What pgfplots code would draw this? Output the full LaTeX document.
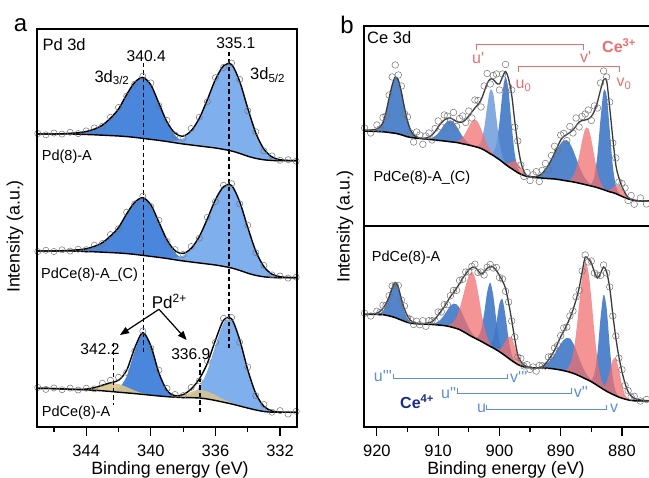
\documentclass[border=0pt]{standalone}
\usepackage{fontspec}
\setmainfont{Liberation Sans}
\usepackage{pgfplots}
\pgfplotsset{compat=1.18}
\usepackage{pgfplotstable}
\usepgfplotslibrary{fillbetween}
\usetikzlibrary{arrows.meta}
\definecolor{pdA}{HTML}{4A86DC}
\definecolor{pdB}{HTML}{74A8EC}
\definecolor{pdT}{HTML}{D8C48E}
\definecolor{ceB}{HTML}{3F78C6}
\definecolor{ceL}{HTML}{6E9CDA}
\definecolor{ceR}{HTML}{F07070}
\definecolor{lblR}{HTML}{EC6E6E}
\definecolor{lblB}{HTML}{5B8FD6}
\definecolor{navy}{HTML}{1C2A8C}
\definecolor{envc}{HTML}{3A3A3A}
\newcommand\fs[1]{\fontsize{#1}{#1}\selectfont}
\tikzset{guide/.style={line width=1.5pt, dash pattern=on 4.5pt off 3pt}}

\pgfplotstableread{
x bga Aa Ba na bgb Ab Bb nb bgc Ac Bc Tc nc
347 293 0 0 0.5 176 0 0 -0.6 38.7 0 0 0 0.8
346.5 293 0 0 -0.8 176 0 0 0.7 38.6 0 0 0 -1.0
346 293 0 0 0.9 176 0 0 -0.5 38.4 0 0 0 0.6
345.5 293 0.3 0 -0.4 176 0.3 0 0.9 38.1 0 0 0 -0.8
345 293 0.7 0 1.0 176 0.7 0 -0.8 37.7 0 0 0 1.2
344.5 292.8 1.5 0 -0.9 175.8 1.4 0 0.6 37.4 0 0 0.2 -0.6
344 292.5 3 0 0.6 175.5 2.8 0 -1.0 37.1 0 0 0.8 0.9
343.5 292.2 5.7 0 1.2 175.2 5.4 0 1.2 36.7 0 0 2.6 -1.2
343 291.8 10 0 -1.0 174.8 9.5 0 -0.8 36.2 0 0 5.6 2.0
342.5 291.4 17.5 0 0.8 174.4 16.6 0 1.4 35.5 0.4 0 8.3 2.5
342 291 27 0 1.5 174 25.5 0 -1.2 34.8 3.6 0 8.3 3.0
341.5 290.4 42 0 -1.4 173.4 39.7 0 1.6 34.1 16.6 0 5.9 -2.0
341 289.6 55 0 -1.8 172.6 52 0 -1.5 33.4 42.6 0 3.0 -3.0
340.5 288.6 61 0 1.2 171.6 57.7 0 1.5 32.6 60.8 0 1.0 1.5
340 287.6 54.5 0 2.0 170.6 51.6 0 -1.8 31.8 49 0 0.3 -2.5
339.5 286.6 37 0.1 -2.2 169.6 35 0.1 2.0 31.0 23 0 0 2.8
339 285.5 19 0.6 1.5 168.5 18 0.6 -1.5 30.3 6.3 0 0 2.0
338.5 284.2 7.5 2 -1.6 167.2 7.1 1.9 1.2 29.8 1.0 0 0.5 1.2
338 283 2.2 5.7 -2.0 166 2.1 5.4 -1.0 29.5 0.1 0.6 2.2 -1.0
337.5 282 0.6 13.7 2.2 165 0.6 13.1 1.8 29.3 0 3.0 5.8 1.5
337 281 0 27.7 1.0 164 0 26.4 -1.6 29.0 0 10.7 8.3 -2.0
336.5 280 0 47.4 -2.0 163 0 45.2 1.5 28.0 0 28.2 7.5 2.5
336 279 0 68.5 1.8 162 0 65.3 -1.8 26.5 0 55 5.3 -2.2
335.5 277.6 0 83.5 -1.5 160.6 0 79.7 1.4 24.8 0 79 2.9 2.0
335 276 0 86.5 1.5 159 0 82.5 1.8 23.0 0 83.8 1.2 1.5
334.5 273.6 0 72 2.0 156.6 0 68.7 -2.0 21.0 0 65.9 0.4 -2.5
334 270.8 0 48 -2.5 153.8 0 45.8 2.2 18.9 0 38.2 0.1 2.8
333.5 268.6 0 25.4 1.2 151.6 0 24.2 -1.5 17.0 0 16.4 0 -2.0
333 267.2 0 10.7 -1.8 150.2 0 10.2 1.2 15.5 0 5.2 0 1.8
332.5 266.5 0 3.6 1.0 149.5 0 3.4 -0.8 14.8 0 1.2 0 -1.2
332 266.3 0 1 -0.6 149.3 0 1 0.7 14.7 0 0.2 0 1.5
331.5 266.3 0 0.2 0.8 149.3 0 0.2 -0.6 14.7 0 0 0 -1.8
331 266.3 0 0 -0.5 149.3 0 0 0.5 14.7 0 0 0 1.0
}\tabPd

\pgfplotstableread{
x bg bA bB bL rA rB env n
922 95 0 0 0 0 0 96 2
921 94.8 0.1 0 0 0 0 96 -3
920 94.5 1.4 0 0 0 0 97 4
919.5 94.4 4.0 0 0 0 0 99 -2
919 94.2 9.9 0 0 0 0 103.5 5
918.5 93.9 20.2 0 0 0 0 114 -4
918 93.5 34.4 0 0 0 0 128 3
917.5 93.1 48.3 0 0 0 0 141 8
917 92.7 56.2 0 0 0 0 149 12
916.5 92 54.1 0 0 0 0 146 5
916 91.2 43.1 0 0 0 0 134 6
915.5 90.2 28.5 0 0 0 0 118.5 -6
915 89.2 15.5 0 0 0 0 105 4
914.5 88.6 7.0 0 0 0 0 96 -3
914 88.1 2.6 0 0 0 0 91 -7
913.5 87.8 0.8 0 0 0 0 89 5
913 87.5 0.2 0 0 0 0 88 3
912.5 87.2 0 0.1 0 0 0 87.7 -6
912 86.9 0 0.3 0 0 0 88 2
911.5 86.6 0 0.8 0 0 0 89 4
911 86.3 0 1.8 0 0 0 91 -5
910.5 86 0 3.9 0 0 0 94.5 3
910 85.6 0 7.2 0 0 0 99 6
909.5 85.3 0 11.6 0 0 0 103 -4
909 85 0 16.3 0 0 0 106 5
908.5 84.6 0 20.1 0 0 0 107.8 2
908 84.2 0 21.5 0 0 0 108 -3
907.5 83.9 0 20.1 0 0.3 0 106.5 7
907 83.5 0 16.3 0 1.1 0 104.5 -5
906.5 82.9 0 11.6 0 2.8 0 103.5 4
906 82.2 0 7.2 0 6.3 0 104 6
905.5 81.6 0 3.9 0 11.7 0 106.5 -3
905 80.9 0 1.8 0 18.4 0 110 5
904.5 80.2 0 0.8 0 24.3 0 114 -6
904 79.4 0 0.3 0.2 27 0 118 8
903.5 78.6 0 0 1.5 25.2 0 121.5 4
903 77.5 0 0 6.9 19.7 0 126 -7
902.5 76 0 0 21.4 13 0 134 6
902 74.2 0 0 45 7.2 0 142.5 10
901.5 72.2 0 0.5 64 3.4 0 147 -5
901 70.5 0 3.3 61.5 1.3 0 146.5 4
900.5 68.4 0 13.4 40 0.4 0 143 9
900 66.3 0 37.3 17.6 0.1 0 142 -6
899.5 64 0 69.3 5.3 0 0.2 149 3
899 61.5 0 88 1.1 0 1.1 154.5 7
898.5 59.3 0 75.2 0.1 0 3.3 147 -8
898 57.3 0 43.4 0 0 6.8 131 5
897.5 55.3 0 17.1 0 0 9.7 105 -6
897 53.3 0 4.5 0 0 9.3 81 4
896.5 51.7 0 0.8 0 0 6.1 64 -3
896 50.5 0 0.1 0 0 2.7 54.5 -5
895.5 49.6 0 0 0 0 0.8 50.5 3
895 49 0.3 0 0 0 0.2 49.5 -4
894.5 48.6 0.7 0 0 0 0 49.2 2
894 48.3 1.5 0 0 0 0 49.3 5
893.5 48.1 2.8 0 0 0 0 50.5 -6
893 47.8 5.0 0 0 0 0 52.7 3
892.5 47.6 8.2 0 0 0 0 56.5 6
892 47.4 12.7 0 0 0 0 61 -5
891.5 47.2 18.4 0 0 0 0 66.5 4
891 47 24.8 0 0 0 0 72.7 7
890.5 46.6 31.1 0 0 0 0 79.5 -4
890 46.1 36.5 0 0 0 0 86 5
889.5 45.6 39.9 0 0 0 0 89.5 3
889 45.1 40.7 0 0 0.4 0 91.5 -6
888.5 44.6 38 0 0 1.6 0 93.5 6
888 44.1 32.2 0 0 5.3 0 96 -3
887.5 43.5 24.8 0 0 13.5 0 100 8
887 42.8 17.3 0 0 26.9 0 104 -5
886.5 42.1 10.9 0 0 43.4 0 105.5 4
886 41.4 6.2 0 0 55.7 0 106 6
885.5 40.6 3.3 0.3 0 57 0 107 9
885 39.9 1.5 2.3 0 46.4 0 109.5 -4
884.5 39.2 0.7 10.7 0 30.2 0 115 5
884 38.3 0.3 33.1 0 15.7 0 124 -6
883.5 37.3 0 69.6 0 6.4 0 136 7
883 36.3 0 98.8 0 2.1 0.1 146 9
882.5 35.2 0 95.1 0 0.6 0.6 145 4
882 34.2 0 61.9 0 0.1 2.1 118 6
881.5 33.4 0 27.2 0 0 5 88 -5
881 32.4 0 8.1 0 0 8.4 61 7
880.5 31 0 1.7 0 0 9.4 48 -4
880 29.6 0 0.2 0 0 7.2 39.5 3
879.5 28.3 0 0 0 0 3.7 33 5
879 27.2 0 0 0 0 1.3 28.5 -3
878.5 26.3 0 0 0 0 0.3 26.5 4
878 25.6 0 0 0 0 0 25.8 -4
877 25 0 0 0 0 0 25 3
876 25 0 0 0 0 0 25 -3
875 25 0 0 0 0 0 25 2
}\tabCeT

\pgfplotstableread{
x bg bA bB rA rB env n
922 112.7 0 0 0 0 112.7 1
921 112.7 0 0 0 0 113 -2
920 112.7 0.3 0 0 0 113.7 2
919.5 112.6 1.1 0 0 0 115.5 -1
919 112.3 3.8 0 0 0 118.7 3
918.5 111.8 9.9 0 0 0 123.5 -2
918 111.1 19.8 0 0 0 130.3 1
917.5 110.3 30 0 0 0 139 2
917 109.3 34.4 0 0 0 144.5 -3
916.5 108.1 30 0 0 0 139.5 2
916 106.9 19.8 0 0 0 128 -1
915.5 105.7 9.9 0 0 0 118 3
915 104.6 3.8 0 0 0 111 -2
914.5 103.9 1.1 0 0 0 106.5 1
914 103.5 0.3 0 0 0 104.5 -2
913.5 103.3 0 0 0 0 103.7 2
913 103.1 0 0 0 0 103.3 -1
912.5 103 0 0 0 0 103.3 3
912 102.8 0 0 0 0 103.7 -3
911.5 102.7 0 0 0 0 104.3 2
911 102.5 0 0.6 0 0 105.3 1
910.5 102.3 0 1.5 0 0 108 -2
910 102 0 3.3 0 0 112 3
909.5 101.7 0 6.4 0 0 116 -1
909 101.4 0 10.7 0.3 0 120.3 2
908.5 100.9 0 15.9 0.9 0 125.3 -3
908 100.2 0 20.8 2.4 0 130.3 1
907.5 99.4 0 23.9 5.6 0 134.5 2
907 98.5 0 24.2 11.6 0 138.7 -2
906.5 97.4 0 21.6 21.1 0 143.5 3
906 95.7 0 17 33.8 0 148.7 -1
905.5 94 0 11.7 47.7 0 153 2
905 92.1 0 7.1 59.3 0 157 -2
904.5 90.4 0 3.8 64.7 0 159.5 1
904 88.8 0.5 1.8 61.2 0 159.8 3
903.5 87.3 2.8 0.7 47.8 0 156.5 -2
903 85.7 11 0.3 31 0 153 2
902.5 84 29.2 0 16.6 0 155 -3
902 82.3 52.4 0.3 7.3 0 158.7 1
901.5 80.6 63.7 2.2 2.7 0 160.5 2
901 79 52.4 9.6 0.8 0 160 -1
900.5 77.2 29.2 26.8 0.2 0.6 156.5 3
900 75.3 11 47.7 0 2.4 151.5 -2
899.5 73.2 2.8 54.5 0 7.1 146 2
899 71 0.5 39.9 0 14.8 138.7 -3
898.5 68.7 0 18.8 0 21.6 124 1
898 66.4 0 5.7 0 22.4 107 -1
897.5 64.4 0 1.1 0 16.4 88 2
897 62.5 0 0.1 0 8.5 72 -2
896.5 61.1 0 0 0 3.1 65.5 3
896 60.2 0 0 0 0.8 62 -1
895.5 59.6 0 0 0 0.2 60.3 2
895 59.3 0 0 0 0 59.5 -2
894.5 59.2 0 0 0 0 59 1
894 59.1 0.5 0 0 0 58.9 -3
893.5 59 1 0 0 0 59.4 2
893 59 1.9 0 0 0 60.3 1
892.5 58.9 3.7 0 0 0 63 -2
892 58.7 6.4 0 0 0 67 3
891.5 58.4 10.1 0 0 0 71.5 -1
891 58 15 0 0 0 77 2
890.5 57.5 20.6 0 0 0 83.5 -2
890 57 26.2 0 0 0 90.3 1
889.5 56.3 30.8 0 0.6 0 96 3
889 55.6 33.5 0 2.2 0 102 -2
888.5 54.8 33.7 0 7.1 0 109 2
888 53.8 30.5 0 18.9 0 117 -1
887.5 52.6 24.7 0 40.5 0 127 3
887 51.2 17.9 0 70.8 0 138.7 -2
886.5 49.8 11.6 0 100.6 0 155 1
886 48.3 6.7 0 116.2 0 170 2
885.5 46.9 3.5 0.2 109.2 0 168 -3
885 45.3 1.6 1.9 83.6 0 164 2
884.5 43.4 0.7 9.9 51.9 0 155 -1
884 41.4 0.3 32.6 26.3 0 149 3
883.5 39.5 0 69.5 10.7 0.5 153.5 -2
883 37.5 0 94.8 3.6 2.6 160 2
882.5 35.7 0 83 1 9.1 155 -1
882 34.1 0 46.6 0.2 21.6 139 1
881.5 32.6 0 16.7 0 34.5 113 -2
881 31.2 0 3.9 0 37.4 89 2
880.5 29.9 0 0.6 0 27.3 70 -1
880 28.8 0 0.1 0 13.5 55.3 2
879.5 27.9 0 0 0 4.5 43.5 -2
879 27.1 0 0 0 1 35.3 1
878.5 26.6 0 0 0 0.2 31 -1
878 26.2 0 0 0 0 28.7 2
877 26 0 0 0 0 27 -1
876 26 0 0 0 0 26.5 1
875 26 0 0 0 0 26.3 -1
}\tabCeB

\begin{document}
\begin{tikzpicture}[x=1pt,y=1pt]
\pgfplotsset{
  every axis/.append style={scale only axis, anchor=south west,
    axis line style={line width=1.3pt}, ytick=\empty, axis on top,
    tick align=outside, xtick pos=bottom, major tick length=9pt, minor tick length=5.5pt,
    tick style={black, line width=1.2pt},
    xticklabel style={font=\fs{16.5}, yshift=-5pt},
    /pgf/number format/assume math mode=true, /pgf/number format/1000 sep={}},
  dat/.style={only marks, mark=o, mark size=3.1pt, mark options={draw=black!55, line width=0.5pt}},
}
% ---------------- panel a ----------------
\begin{axis}[at={(37pt,51pt)}, width=260pt, height=398pt,
  xmin=330.95, xmax=347.05, x dir=reverse, ymin=0, ymax=398,
  xtick={332,336,340,344}, minor xtick={334,338,342,346}]
% spectrum 1
\addplot[name path=bg1, draw=none, smooth] table[x=x,y=bga]{\tabPd};
\addplot[name path=A1, draw=none, smooth] table[x=x,y expr=\thisrow{bga}+\thisrow{Aa}]{\tabPd};
\addplot[name path=B1, draw=none, smooth] table[x=x,y expr=\thisrow{bga}+\thisrow{Ba}]{\tabPd};
\addplot[fill=pdA] fill between[of=A1 and bg1];
\addplot[fill=pdB, fill opacity=0.92] fill between[of=B1 and bg1];
\addplot[black, line width=1.4pt, smooth] table[x=x,y=bga]{\tabPd};
\addplot[black, line width=1.4pt, smooth] table[x=x,y expr=\thisrow{bga}+\thisrow{Aa}+\thisrow{Ba}]{\tabPd};
\addplot[dat] table[x=x,y expr=\thisrow{bga}+\thisrow{Aa}+\thisrow{Ba}+\thisrow{na}]{\tabPd};
% spectrum 2
\addplot[name path=bg2, draw=none, smooth] table[x=x,y=bgb]{\tabPd};
\addplot[name path=A2, draw=none, smooth] table[x=x,y expr=\thisrow{bgb}+\thisrow{Ab}]{\tabPd};
\addplot[name path=B2, draw=none, smooth] table[x=x,y expr=\thisrow{bgb}+\thisrow{Bb}]{\tabPd};
\addplot[fill=pdA] fill between[of=A2 and bg2];
\addplot[fill=pdB, fill opacity=0.92] fill between[of=B2 and bg2];
\addplot[black, line width=1.4pt, smooth] table[x=x,y=bgb]{\tabPd};
\addplot[black, line width=1.4pt, smooth] table[x=x,y expr=\thisrow{bgb}+\thisrow{Ab}+\thisrow{Bb}]{\tabPd};
\addplot[dat] table[x=x,y expr=\thisrow{bgb}+\thisrow{Ab}+\thisrow{Bb}+\thisrow{nb}]{\tabPd};
% spectrum 3
\addplot[name path=bg3, draw=none, smooth] table[x=x,y=bgc]{\tabPd};
\addplot[name path=A3, draw=none, smooth] table[x=x,y expr=\thisrow{bgc}+\thisrow{Ac}]{\tabPd};
\addplot[name path=B3, draw=none, smooth] table[x=x,y expr=\thisrow{bgc}+\thisrow{Bc}]{\tabPd};
\addplot[name path=T3, draw=none, smooth] table[x=x,y expr=\thisrow{bgc}+\thisrow{Tc}]{\tabPd};
\addplot[fill=pdA] fill between[of=A3 and bg3];
\addplot[fill=pdB, fill opacity=0.92] fill between[of=B3 and bg3];
\addplot[fill=pdT, fill opacity=0.9] fill between[of=T3 and bg3];
\addplot[black, line width=1.4pt, smooth] table[x=x,y=bgc]{\tabPd};
\addplot[black, line width=1.4pt, smooth] table[x=x,y expr=\thisrow{bgc}+\thisrow{Ac}+\thisrow{Bc}+\thisrow{Tc}]{\tabPd};
\addplot[dat] table[x=x,y expr=\thisrow{bgc}+\thisrow{Ac}+\thisrow{Bc}+\thisrow{Tc}+\thisrow{nc}]{\tabPd};
% dashed guides
\draw[guide] (axis cs:340.45,364) -- (axis cs:340.45,72);
\draw[guide] (axis cs:335.15,375) -- (axis cs:335.15,79);
\draw[guide] (axis cs:342.3,84) -- (axis cs:342.3,22);
\draw[guide] (axis cs:336.97,64) -- (axis cs:336.97,12);
\end{axis}

% ---------------- panel b, top ----------------
\begin{axis}[at={(364pt,252pt)}, width=288pt, height=200pt,
  xmin=875.1, xmax=922.1, x dir=reverse, ymin=0, ymax=200, xtick=\empty]
\addplot[name path=bgT, draw=none, smooth] table[x=x,y=bg]{\tabCeT};
\addplot[name path=bAT, draw=none, smooth] table[x=x,y expr=\thisrow{bg}+\thisrow{bA}]{\tabCeT};
\addplot[name path=bBT, draw=none, smooth] table[x=x,y expr=\thisrow{bg}+\thisrow{bB}]{\tabCeT};
\addplot[name path=bLT, draw=none, smooth] table[x=x,y expr=\thisrow{bg}+\thisrow{bL}]{\tabCeT};
\addplot[name path=rAT, draw=none, smooth] table[x=x,y expr=\thisrow{bg}+\thisrow{rA}]{\tabCeT};
\addplot[name path=rBT, draw=none, smooth] table[x=x,y expr=\thisrow{bg}+\thisrow{rB}]{\tabCeT};
\addplot[fill=ceB, fill opacity=0.9] fill between[of=bAT and bgT];
\addplot[fill=ceB, fill opacity=0.9] fill between[of=bBT and bgT];
\addplot[fill=ceL, fill opacity=0.85] fill between[of=bLT and bgT];
\addplot[fill=ceR, fill opacity=0.75] fill between[of=rAT and bgT];
\addplot[fill=ceR, fill opacity=0.75] fill between[of=rBT and bgT];
\addplot[black, line width=1.5pt, smooth] table[x=x,y=bg]{\tabCeT};
\addplot[envc, line width=1.3pt, smooth] table[x=x,y=env]{\tabCeT};
\addplot[dat, mark size=3.3pt] table[x=x,y expr=\thisrow{env}+\thisrow{n}]{\tabCeT};
\end{axis}

% ---------------- panel b, bottom ----------------
\begin{axis}[at={(364pt,51pt)}, width=288pt, height=201pt,
  xmin=875.1, xmax=922.1, x dir=reverse, ymin=0, ymax=201,
  xtick={880,890,900,910,920}, minor xtick={885,895,905,915}]
\addplot[name path=bgB, draw=none, smooth] table[x=x,y=bg]{\tabCeB};
\addplot[name path=bAB, draw=none, smooth] table[x=x,y expr=\thisrow{bg}+\thisrow{bA}]{\tabCeB};
\addplot[name path=bBB, draw=none, smooth] table[x=x,y expr=\thisrow{bg}+\thisrow{bB}]{\tabCeB};
\addplot[name path=rAB, draw=none, smooth] table[x=x,y expr=\thisrow{bg}+\thisrow{rA}]{\tabCeB};
\addplot[name path=rBB, draw=none, smooth] table[x=x,y expr=\thisrow{bg}+\thisrow{rB}]{\tabCeB};
\addplot[fill=ceB, fill opacity=0.9] fill between[of=bAB and bgB];
\addplot[fill=ceB, fill opacity=0.9] fill between[of=bBB and bgB];
\addplot[fill=ceR, fill opacity=0.75] fill between[of=rAB and bgB];
\addplot[fill=ceR, fill opacity=0.75] fill between[of=rBB and bgB];
\addplot[black, line width=1.5pt, smooth] table[x=x,y=bg]{\tabCeB};
\addplot[envc, line width=1.3pt, smooth] table[x=x,y=env]{\tabCeB};
\addplot[dat, mark size=3.3pt] table[x=x,y expr=\thisrow{env}+\thisrow{n}]{\tabCeB};
\end{axis}

% ---------------- labels ----------------
\node[font=\fs{24}] at (20.5,453) {a};
\node[font=\fs{24}] at (347,453) {b};
\node[font=\fs{17.8}, anchor=base] at (170,3.6) {Binding energy (eV)};
\node[font=\fs{17.8}, anchor=base] at (506,3.6) {Binding energy (eV)};
\node[font=\fs{17.8}, rotate=90] at (15,241.5) {Intensity (a.u.)};
\node[font=\fs{17.8}, rotate=90] at (345,251.5) {Intensity (a.u.)};

% panel a texts
\node[font=\fs{16.5}, anchor=base west, inner sep=0] at (42.3,427.3) {Pd 3d};
\node[font=\fs{15.6}, anchor=base, inner sep=0] at (146.2,416.3) {340.4};
\node[font=\fs{15.6}, anchor=base, inner sep=0] at (235.8,429.7) {335.1};
\node[font=\fs{16.5}, anchor=base west, inner sep=0] at (94.3,395.7) {3d\textsubscript{3/2}};
\node[font=\fs{16.5}, anchor=base west, inner sep=0] at (250,398) {3d\textsubscript{5/2}};
\node[font=\fs{14.5}, anchor=base west, inner sep=0] at (41.7,317.3) {Pd(8)-A};
\node[font=\fs{14.5}, anchor=base west, inner sep=0] at (41,199.7) {PdCe(8)-A\_(C)};
\node[font=\fs{17}, anchor=base west, inner sep=0] at (151.7,169.7) {Pd\textsuperscript{2+}};
\node[font=\fs{15.6}, anchor=base, inner sep=0] at (100,123) {342.2};
\node[font=\fs{15.6}, anchor=base, inner sep=0] at (190.8,118) {336.9};
\node[font=\fs{14.5}, anchor=base west, inner sep=0] at (41.7,61.3) {PdCe(8)-A};
\draw[line width=1.2pt, -{Triangle[length=9pt,width=7pt]}] (159,168.7) -- (120,143);
\draw[line width=1.2pt, -{Triangle[length=9pt,width=7pt]}] (159,168.7) -- (186.7,138);

% panel b texts
\node[font=\fs{16.5}, anchor=base west, inner sep=0] at (367,434) {Ce 3d};
\node[font=\fs{14.5}, anchor=base west, inner sep=0] at (373.3,296.3) {PdCe(8)-A\_(C)};
\node[font=\fs{14.5}, anchor=base west, inner sep=0] at (371.7,216.3) {PdCe(8)-A};
\node[font=\bfseries\fs{16}, text=lblR, anchor=base west, inner sep=0] at (602,425.7) {Ce\textsuperscript{3+}};
\draw[lblR, line width=0.9pt] (476.3,428) -- (476.3,433.7) -- (583.7,433.7) -- (583.7,428);
\draw[lblR, line width=0.9pt] (518.7,406.3) -- (518.7,411.3) -- (619.7,411.3) -- (619.7,406.3);
\node[font=\fs{16}, text=lblR, anchor=base west, inner sep=0] at (472,414.7) {u\textquotesingle};
\node[font=\fs{16}, text=lblR, anchor=base west, inner sep=0] at (580,415.7) {v\textquotesingle};
\node[font=\fs{16}, text=lblR, anchor=base west, inner sep=0] at (515.5,389) {u\textsubscript{0}};
\node[font=\fs{16}, text=lblR, anchor=base west, inner sep=0] at (616.3,391.3) {v\textsubscript{0}};

\draw[lblB, line width=0.9pt] (393.7,103.7) -- (393.7,99.7) -- (507.7,99.7) -- (507.7,103.7);
\draw[lblB, line width=0.9pt] (457,89.7) -- (457,84.7) -- (571.3,84.7) -- (571.3,89.7);
\draw[lblB, line width=0.9pt] (486,73) -- (486,68.7) -- (606.3,68.7) -- (606.3,73);
\node[font=\fs{16}, text=lblB, anchor=base west, inner sep=0] at (373.7,96.3) {u\textquotesingle\textquotesingle\textquotesingle};
\node[font=\fs{16}, text=lblB, anchor=base west, inner sep=0] at (510,95.7) {v\textquotesingle\textquotesingle\textquotesingle};
\node[font=\fs{16}, text=lblB, anchor=base west, inner sep=0] at (441,79.7) {u\textquotesingle\textquotesingle};
\node[font=\fs{16}, text=lblB, anchor=base west, inner sep=0] at (573.7,80.3) {v\textquotesingle\textquotesingle};
\node[font=\fs{16}, text=lblB, anchor=base west, inner sep=0] at (477,65.3) {u};
\node[font=\fs{16}, text=lblB, anchor=base west, inner sep=0] at (610,65.3) {v};
\node[font=\bfseries\fs{16}, text=navy, anchor=base west, inner sep=0] at (400,69.7) {Ce\textsuperscript{4+}};

\pgfresetboundingbox
\path (0,0) rectangle (649,478);
\end{tikzpicture}
\end{document}
